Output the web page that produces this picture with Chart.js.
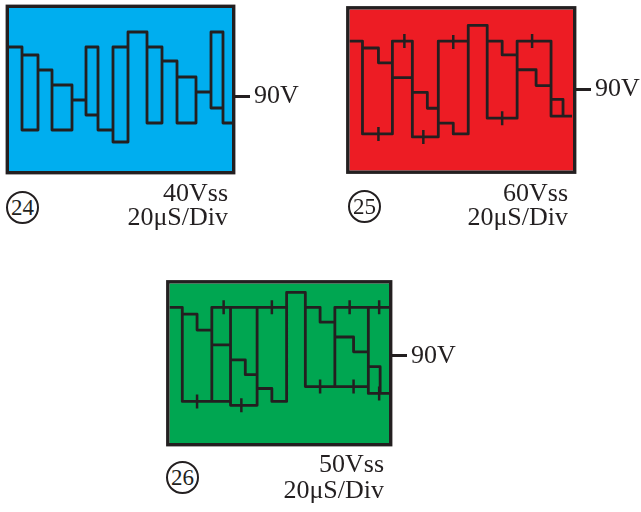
<!DOCTYPE html>
<html>
<head>
<meta charset="utf-8">
<title>Scope traces 24-26</title>
<script src="https://cdn.jsdelivr.net/npm/chart.js@4.4.1/dist/chart.umd.min.js"></script>
<style>
  body { margin: 0; background: #fff; overflow: hidden; }
  #page { position: relative; width: 641px; height: 512px; font-family: 'Liberation Serif', 'Times New Roman', serif; color: #231f20; }
  .scope { position: absolute; }
  .num { position: absolute; width: 29px; height: 29px; border: 2px solid #231f20; border-radius: 50%;
         text-align: center; line-height: 30px; font-size: 23px; }
  .info { position: absolute; white-space: nowrap; font-size: 26px; line-height: 26px; }
</style>
</head>
<body>
<div id="page">
  <canvas id="scope24" class="scope" width="320" height="180" style="left:0;top:0"></canvas>
  <canvas id="scope25" class="scope" width="301" height="180" style="left:340px;top:0"></canvas>
  <canvas id="scope26" class="scope" width="320" height="180" style="left:160px;top:274px"></canvas>

  <div class="num" style="left:6px;top:191px">24</div>
  <div class="info" style="right:413px;top:180px">40Vss</div>
  <div class="info" style="right:413px;top:204px">20μS/Div</div>

  <div class="num" style="left:348px;top:190px">25</div>
  <div class="info" style="right:73px;top:180px">60Vss</div>
  <div class="info" style="right:73px;top:204px">20μS/Div</div>

  <div class="num" style="left:166px;top:461px">26</div>
  <div class="info" style="right:257px;top:451px">50Vss</div>
  <div class="info" style="right:257px;top:477px">20μS/Div</div>
</div>

<script>
// screen units: x from the left edge of the screen, y from its top edge
// null = pen lifted between two strokes

// 24 - 40Vss
var wave24X = [0,13,13,29,29,13, null, 29,43,43,63,63,43, null,
  63,77,77,89,89,104,104,119,119,138,138,153,153,138, null, 77,77,89, null, 104,104,119, null,
  153,168,168,187,187,168, null, 187,202,202,214,214,223, null, 202,202,214];
var wave24Y = [39,39,122,122,47,47, null, 62,62,122,122,77,77, null,
  92,92,39,39,122,122,134,134,24,24,115,115,39,39, null, 92,107,107, null, 122,39,39, null,
  53,53,115,115,69,69, null, 84,84,24,24,115,115, null, 84,100,100];
var marks24X = [];
var marks24Y = [];
var level24 = 88;

// 25 - 60Vss
var wave25X = [0,13,13,43,43,63,63,89,89,119,119,138,138,168,168,202,202,223, null,
  13,29,29,43, null, 43,63, null, 63,78,78,89, null, 89,104,104,119,119, null,
  138,153,153,168, null, 168,187,187,202, null, 202,214,214];
var wave25Y = [32,32,126,126,32,32,129,129,32,32,16,16,110,110,32,32,108,108, null,
  39,39,54,54, null, 69,69, null, 84,84,100,100, null, 115,115,126,126,32, null,
  32,32,46,46, null, 61,61,77,77, null, 91,91,108];
var marks25X = [29,55,74,104,153,183];
var marks25Y = [126,32,129,33,110,32];
var level25 = 81;

// 26 - 50Vss
var wave26X = [0,13,13,62,62,89,89, null, 13,28,28,43, null, 43,43,119,119,138,138,202,202,223, null,
  43,62, null, 62,62, null, 62,77,77,89, null, 89,104,104,119,119, null, 138,153,153,168, null,
  168,168,223, null, 168,187,187,202, null, 202,202, null, 202,214,214];
var wave26Y = [24,24,119,119,123,123,24, null, 31,31,47,47, null, 119,24,24,9,9,104,104,111,111, null,
  62,62, null, 24,119, null, 77,77,92,92, null, 106,106,119,119,24, null, 24,24,39,39, null,
  104,24,24, null, 54,54,69,69, null, 24,104, null, 84,84,111];
var marks26X = [55,104,183,213,28,73,153,187,213];
var marks26Y = [24,24,24,24,119,123,104,104,111];
var level26 = 73;

var levelText = '90V';
var ink = '#231f20';

function points(xs, ys) {
  var out = [];
  for (var i = 0; i < xs.length; i++) {
    out.push({ x: xs[i], y: ys[i] });
  }
  return out;
}

var screenPlugin = {
  id: 'screen',
  beforeDatasetsDraw: function(chart, args, opts) {
    var a = chart.chartArea, ctx = chart.ctx;
    ctx.save();
    ctx.fillStyle = opts.color;
    ctx.fillRect(a.left, a.top, a.right - a.left, a.bottom - a.top);
    ctx.restore();
  },
  afterDraw: function(chart) {
    var a = chart.chartArea, ctx = chart.ctx;
    ctx.save();
    ctx.strokeStyle = ink;
    ctx.lineWidth = 3.4;
    ctx.strokeRect(a.left - 1.7, a.top - 1.7, a.right - a.left + 3.4, a.bottom - a.top + 3.4);
    ctx.restore();
  }
};

function scope(id, color, waveX, waveY, marksX, marksY, level, screenW, screenH, pad, axisW) {
  return new Chart(document.getElementById(id), {
    type: 'scatter',
    data: {
      datasets: [
        {
          data: points(waveX, waveY),
          showLine: true,
          spanGaps: false,
          borderColor: ink,
          borderWidth: 2.8,
          borderJoinStyle: 'round',
          pointRadius: 0
        },
        {
          data: points(marksX, marksY),
          showLine: false,
          pointStyle: 'line',
          rotation: 90,
          pointRadius: 7,
          borderColor: ink,
          borderWidth: 2.5
        }
      ]
    },
    options: {
      responsive: false,
      animation: false,
      events: [],
      layout: { padding: pad },
      plugins: {
        legend: { display: false },
        tooltip: { enabled: false },
        screen: { color: color }
      },
      scales: {
        x: { type: 'linear', display: false, min: 0, max: screenW },
        y: {
          type: 'linear',
          position: 'right',
          reverse: true,
          min: 0,
          max: screenH,
          afterBuildTicks: function(s) { s.ticks = [{ value: level }]; },
          afterFit: function(s) { s.width = axisW; s.paddingTop = 0; s.paddingBottom = 0; },
          border: { display: false },
          grid: { drawOnChartArea: false, drawTicks: true, tickLength: 18, color: ink, lineWidth: 3 },
          ticks: {
            autoSkip: false,
            padding: 4,
            color: ink,
            font: { family: "'Liberation Serif', 'Times New Roman', serif", size: 26 },
            callback: function() { return levelText; }
          }
        }
      }
    },
    plugins: [screenPlugin]
  });
}

scope('scope24', '#00aeef', wave24X, wave24Y, marks24X, marks24Y, level24, 223, 163,
  { left: 9, top: 8, right: 0, bottom: 9 }, 88);
scope('scope25', '#ed1c24', wave25X, wave25Y, marks25X, marks25Y, level25, 224, 163,
  { left: 9, top: 8, right: 0, bottom: 9 }, 68);
scope('scope26', '#00a651', wave26X, wave26Y, marks26X, marks26Y, level26, 223, 161,
  { left: 6, top: 8, right: 0, bottom: 11 }, 91);
</script>
</body>
</html>
